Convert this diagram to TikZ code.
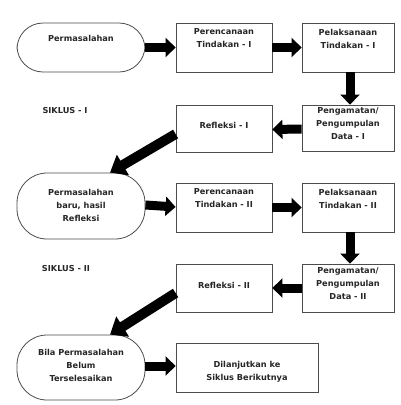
\documentclass[tikz,border=0pt]{standalone}
\usepackage{fontspec}
\setmainfont{DejaVu Sans}
\usetikzlibrary{arrows.meta,calc}
\begin{document}
\begin{tikzpicture}[x=1pt,y=-1pt,
  boxline/.style={draw=black!70,line width=0.8pt,inner sep=0pt},
  sqbox/.style={boxline,rectangle},
  rbox/.style={boxline,rectangle,rounded corners=26pt},
  lbl/.style={font=\fontsize{8.2}{13}\selectfont\bfseries,align=center,inner sep=0pt,text=black!85},
  bigarrow/.style={line width=9pt,-{Triangle[length=10pt,width=19pt]}},
  diagarrow/.style={line width=10pt,-{Triangle[length=15pt,width=23pt]}}]
\useasboundingbox[fill=white] (0,0) rectangle (401,405);
% boxes
\node[rbox,minimum width=128pt,minimum height=49pt] (p1) at (81,47.5) {};
\node[sqbox,minimum width=96pt,minimum height=49pt] (r1) at (224,47.5) {};
\node[sqbox,minimum width=92pt,minimum height=49pt] (l1) at (348,47.5) {};
\node[sqbox,minimum width=92pt,minimum height=46pt] (g1) at (348,128) {};
\node[sqbox,minimum width=96pt,minimum height=47pt] (f1) at (224,128.5) {};
\node[rbox,minimum width=128pt,minimum height=66pt,rounded corners=30pt] (p2) at (81,206) {};
\node[sqbox,minimum width=96pt,minimum height=49pt] (r2) at (224,207.5) {};
\node[sqbox,minimum width=92pt,minimum height=49pt] (l2) at (348,207.5) {};
\node[sqbox,minimum width=92pt,minimum height=48pt] (g2) at (348,288) {};
\node[sqbox,minimum width=96pt,minimum height=48pt] (f2) at (224,288) {};
\node[rbox,minimum width=128pt,minimum height=65pt,rounded corners=30pt] (p3) at (81,367.5) {};
\node[sqbox,minimum width=142pt,minimum height=49pt] (d) at (247,367.5) {};
% texts
\node[lbl] (tp1) at (81,38) {Permasalahan};
\node[lbl] (tr1) at (224,38.5) {Perencanaan\\Tindakan - I};
\node[lbl] (tl1) at (348,38.5) {Pelaksanaan\\Tindakan - I};
\node[lbl] (tg1) at (348,124) {Pengamatan/\\Pengumpulan\\Data - I};
\node[lbl] (tf1) at (224,125) {Refleksi - I};
\node[lbl] (tp2) at (81,205) {Permasalahan\\baru, hasil\\Refleksi};
\node[lbl] (tr2) at (224,198.5) {Perencanaan\\Tindakan - II};
\node[lbl] (tl2) at (348,198.5) {Pelaksanaan\\Tindakan - II};
\node[lbl] (tg2) at (348,284) {Pengamatan/\\Pengumpulan\\Data - II};
\node[lbl] (tf2) at (224,285) {Refleksi - II};
\node[lbl] (tp3) at (81,365.5) {Bila Permasalahan\\Belum\\Terselesaikan};
\node[lbl] (td) at (247,371.5) {Dilanjutkan ke\\Siklus Berikutnya};
\node[lbl] (s1) at (65,111) {SIKLUS - I};
\node[lbl] (s2) at (66,269) {SIKLUS - II};
% arrows
\draw[bigarrow] (p1.east) -- (r1.west);
\draw[bigarrow] (r1.east) -- (l1.west);
\draw[bigarrow] ([xshift=2pt]l1.south) -- ([xshift=2pt]g1.north);
\draw[bigarrow] ([yshift=-1pt]g1.west) -- ([yshift=-1pt]f1.east);
\draw[diagarrow] ([yshift=-5.5pt]f1.west) -- ([xshift=29pt]p2.north);
\draw[bigarrow] ([yshift=1pt]p2.east) -- ([yshift=0.5pt]r2.west);
\draw[bigarrow] (r2.east) -- (l2.west);
\draw[bigarrow] ([xshift=2pt]l2.south) -- ([xshift=2pt]g2.north);
\draw[bigarrow] (g2.west) -- (f2.east);
\draw[diagarrow] ([yshift=-5pt]f2.west) -- ([xshift=29pt]p3.north);
\draw[bigarrow] ([yshift=1.5pt]p3.east) -- ([yshift=1.5pt]d.west);
\end{tikzpicture}
\end{document}
